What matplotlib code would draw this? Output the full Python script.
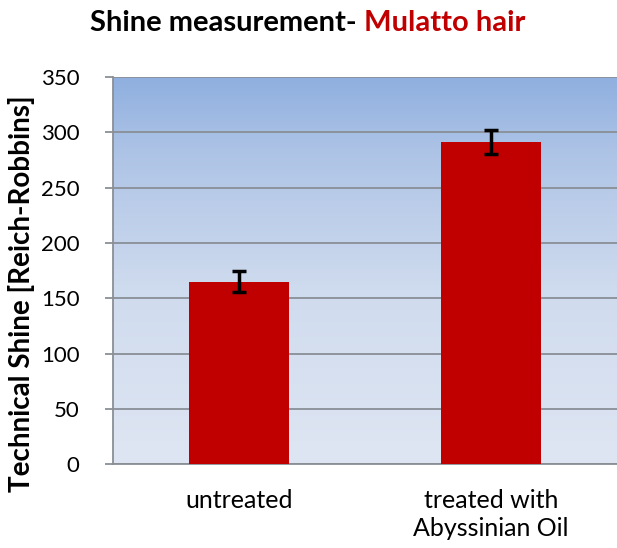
import matplotlib.pyplot as plt
import numpy as np
from matplotlib.colors import LinearSegmentedColormap

# ------------------ DATA ------------------
categories = ["untreated", "treated with\nAbyssinian Oil"]
shine = [165, 291]
shine_err = [9.5, 11]

plt.rcParams['font.family'] = ['Lato', 'DejaVu Sans']

fig = plt.figure(figsize=(6.17, 5.48), dpi=100)
ax = fig.add_axes([0.183, 0.153, 0.817, 0.7065])

# gradient background
bg = LinearSegmentedColormap.from_list(
    "bg", [(0.0, "#dfe6f3"), (0.45, "#cfdbee"), (0.8, "#aec4e6"), (1.0, "#8fafdf")])
grad = np.linspace(0, 1, 256).reshape(-1, 1)
ax.imshow(grad, cmap=bg, origin='lower', aspect='auto',
          extent=[-0.5, 1.5, 0, 350], zorder=0)

x = np.arange(len(categories))
ax.bar(x, shine, width=0.4, color="#c00000", zorder=3)
ax.errorbar(x, shine, yerr=shine_err, fmt='none', ecolor='black',
            elinewidth=2.5, capsize=5, capthick=2.5, zorder=4)

ax.set_xlim(-0.5, 1.5)
ax.set_ylim(0, 350)
ax.set_yticks(range(0, 351, 50))
ax.yaxis.grid(True, color="#8a8f96", linewidth=1.3, zorder=1)
ax.set_axisbelow(True)

ax.set_xticks(x)
ax.set_xticklabels(categories, fontsize=18, color="black", linespacing=1.25)
ax.tick_params(axis='x', length=0, pad=18)
ax.tick_params(axis='y', labelsize=16, colors="black", length=6,
               color="#8a8f96", width=1.3, pad=18)

for s in ['top', 'right']:
    ax.spines[s].set_visible(False)
for s in ['left', 'bottom']:
    ax.spines[s].set_color("#8a8f96")
    ax.spines[s].set_linewidth(1.3)

ax.set_ylabel("Technical Shine [Reich-Robbins]", fontsize=20, fontweight='bold')
ax.yaxis.set_label_coords(-0.155, 0.44)

fig.text(0.59, 0.958, "Shine measurement- ", ha='right', va='center',
         fontsize=21, fontweight='bold', color='black')
fig.text(0.59, 0.958, "Mulatto hair", ha='left', va='center',
         fontsize=21, fontweight='bold', color='#c00000')

fig.savefig("out.png", dpi=100)
